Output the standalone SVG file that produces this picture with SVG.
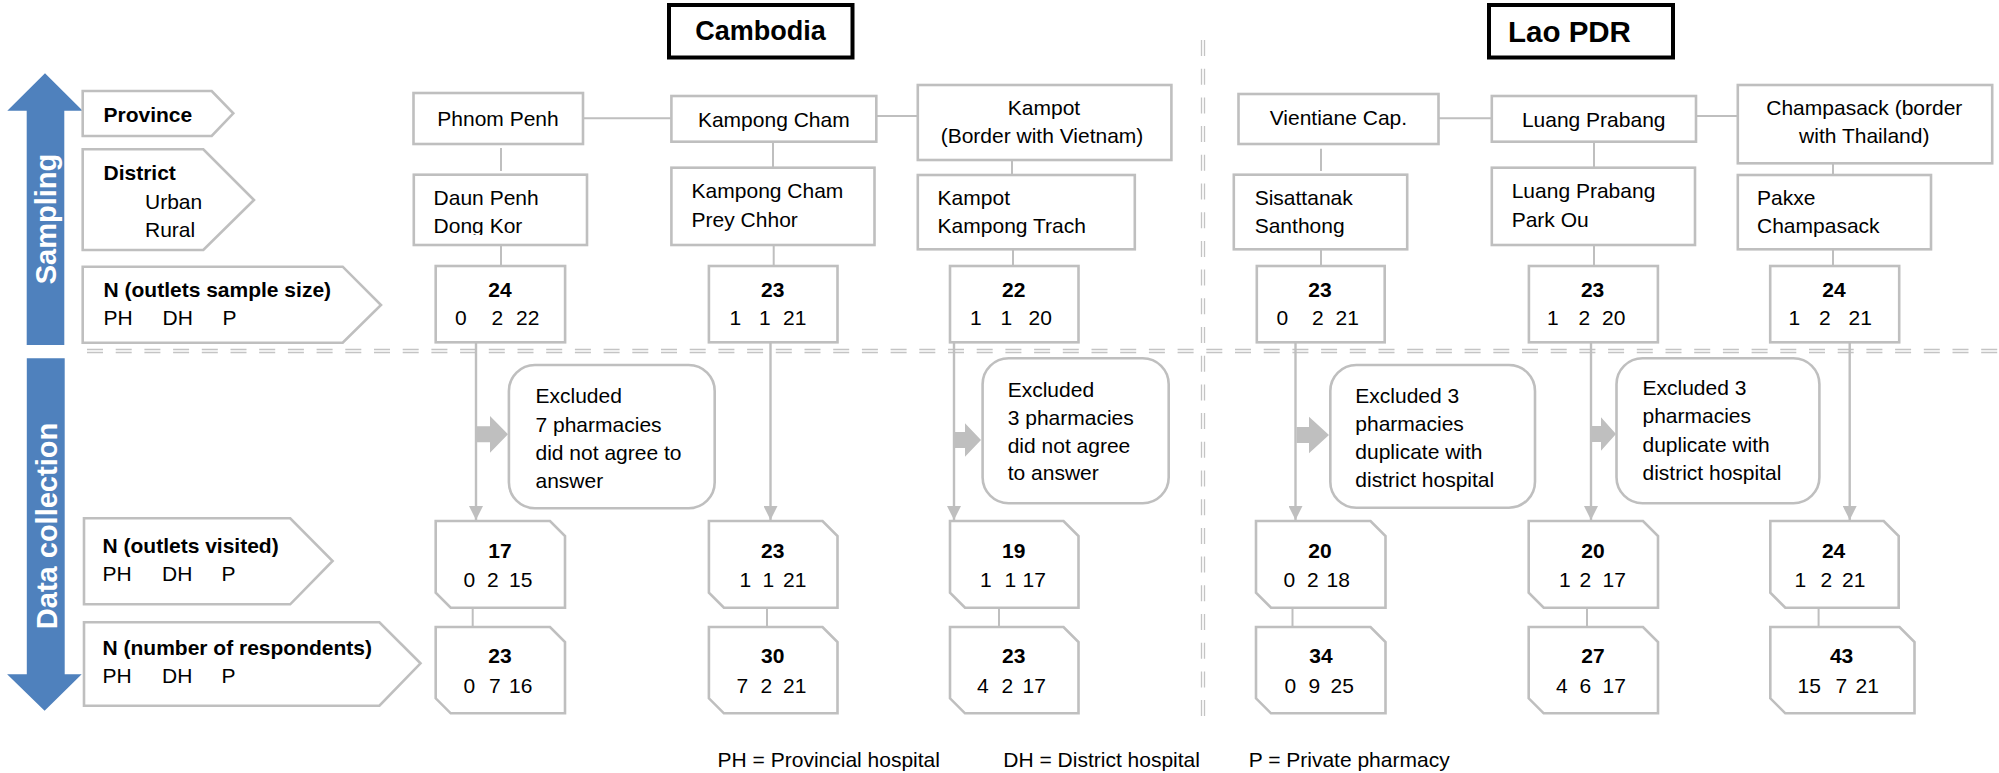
<svg xmlns="http://www.w3.org/2000/svg" width="1999" height="773" viewBox="0 0 1999 773">
<style>
.box{fill:#fff;stroke:#bfbfbf;stroke-width:2.6}
.title{fill:#fff;stroke:#000;stroke-width:4}
.conn{stroke:#bfbfbf;stroke-width:2;fill:none}
.arr{stroke:#bfbfbf;stroke-width:2.4;fill:none;marker-end:url(#ah)}
.blk{fill:#bfbfbf;stroke:none}
.sep{stroke:#c4c4c4;stroke-width:1.3;fill:none;stroke-dasharray:16 12.7}
.blue{fill:#4f81bd;stroke:none}
text{font-family:"Liberation Sans",Arial,Helvetica,sans-serif;font-size:21px;fill:#000}
.b{font-weight:bold}
.m{text-anchor:middle}
.side{font-size:29px;font-weight:bold;fill:#fff;text-anchor:middle}
.ttl{font-size:27px;font-weight:bold}
</style>
<defs>
<marker id="ah" markerUnits="userSpaceOnUse" markerWidth="14" markerHeight="14" refX="14" refY="7" orient="auto">
<path d="M0,0 L14,7 L0,14 Z" fill="#bfbfbf"/>
</marker>
<clipPath id="clipDK"><rect x="400" y="160" width="200" height="75"/></clipPath>
</defs>

<!-- separators -->
<g id="separators">
<path class="sep" d="M87,349.5 H1999 M87,352.5 H1999"/>
<path class="sep" d="M1201.5,40 V725 M1204.5,40 V725"/>
</g>

<!-- side arrows -->
<g id="sampling-arrow">
<polygon class="blue" points="45,73.3 82.7,110.7 64.3,110.7 64.3,345 26.7,345 26.7,110.7 7.3,110.7"/>
<text class="side" transform="translate(56,219) rotate(-90)">Sampling</text>
</g>
<g id="datacollection-arrow">
<polygon class="blue" points="26.8,358.3 64.7,358.3 64.7,674.3 81.7,674.3 44.6,710.7 7.1,674.3 26.8,674.3"/>
<text class="side" transform="translate(57,526) rotate(-90)">Data collection</text>
</g>

<!-- titles -->
<g id="title-cambodia">
<rect class="title" x="669" y="5" width="183.5" height="52.5"/>
<text class="ttl m" x="760.5" y="40">Cambodia</text>
</g>
<g id="title-lao">
<rect class="title" x="1489" y="5" width="184" height="52.5"/>
<text class="ttl" x="1508" y="41.5" style="font-size:29.5px">Lao PDR</text>
</g>

<!-- row labels -->
<g id="label-province">
<path class="box" d="M82.7,91 H211.7 L233.3,113.3 L211.7,136 H82.7 Z"/>
<text class="b" x="103.5" y="122.3">Province</text>
</g>
<g id="label-district">
<path class="box" d="M82.7,149.3 H203.3 L254,200 L203.3,250 H82.7 Z"/>
<text class="b" x="103.5" y="180">District</text>
<text x="145" y="209">Urban</text>
<text x="145" y="236.7">Rural</text>
</g>
<g id="label-sample">
<path class="box" d="M82.7,266.7 H342.7 L381,305 L342.7,342.7 H82.7 Z"/>
<text class="b" x="103.5" y="297.3">N (outlets sample size)</text>
<text y="325"><tspan x="103.5">PH</tspan><tspan x="162.5">DH</tspan><tspan x="222.5">P</tspan></text>
</g>
<g id="label-visited">
<path class="box" d="M84,518.3 H290.2 L332.6,561 L290.2,604.3 H84 Z"/>
<text class="b" x="102.5" y="552.7">N (outlets visited)</text>
<text y="580.7"><tspan x="102.5">PH</tspan><tspan x="162">DH</tspan><tspan x="221.5">P</tspan></text>
</g>
<g id="label-respondents">
<path class="box" d="M84,622.3 H379.4 L420.5,663.3 L379.4,705.7 H84 Z"/>
<text class="b" x="102.5" y="655">N (number of respondents)</text>
<text y="683.3"><tspan x="102.5">PH</tspan><tspan x="162">DH</tspan><tspan x="221.5">P</tspan></text>
</g>

<!-- connectors -->
<g id="connectors">
<path class="conn" d="M583,118.3 H671.4 M876.3,116 H917.8 M1438.5,118.3 H1491.8 M1696,116 H1737.8"/>
<path class="conn" d="M501,148 V171 M501,245 V266 M773,141.7 V167.7 M773.7,245 V266 M1012,160 V175 M1013,249.3 V266"/>
<path class="conn" d="M1321,148.7 V171 M1321,249.3 V266 M1594,141.7 V167.7 M1594,245 V266 M1833,163.3 V175 M1833,249.3 V266"/>
<path class="arr" d="M476,342.3 V520"/>
<path class="arr" d="M770.5,342.3 V520"/>
<path class="arr" d="M954,342.3 V520"/>
<path class="arr" d="M1295.5,342.3 V520"/>
<path class="arr" d="M1591,342.3 V520"/>
<path class="arr" d="M1849.7,342.3 V520"/>
<path class="conn" d="M472.7,607.7 V627 M767,607.7 V627 M999,607.7 V627 M1292.5,607.7 V627 M1587,607.7 V627 M1818.6,607.7 V627"/>
<polygon class="blk" points="477,426.3 490,426.3 490,416 508,434.3 490,452.7 490,442.3 477,442.3"/>
<polygon class="blk" points="954.5,432 965,432 965,423.3 981,440 965,456.7 965,448 954.5,448"/>
<polygon class="blk" points="1296.5,427 1309,427 1309,416.7 1329,435 1309,453.3 1309,443 1296.5,443"/>
<polygon class="blk" points="1590,426 1601,426 1601,417.3 1616,434 1601,450.7 1601,442 1590,442"/>
</g>

<!-- Cambodia provinces -->
<g id="prov-phnompenh">
<rect class="box" x="413.5" y="93" width="169.5" height="51"/>
<text class="m" x="498" y="126">Phnom Penh</text>
</g>
<g id="prov-kampongcham">
<rect class="box" x="671.4" y="96" width="204.9" height="45.7"/>
<text class="m" x="773.8" y="127">Kampong Cham</text>
</g>
<g id="prov-kampot">
<rect class="box" x="917.8" y="85" width="253.6" height="75"/>
<text class="m" x="1044" y="115">Kampot</text>
<text class="m" x="1042" y="142.7">(Border with Vietnam)</text>
</g>
<!-- Lao provinces -->
<g id="prov-vientiane">
<rect class="box" x="1238.5" y="94" width="200" height="50"/>
<text class="m" x="1338.4" y="125">Vientiane Cap.</text>
</g>
<g id="prov-luangprabang">
<rect class="box" x="1491.8" y="96" width="204.2" height="45.7"/>
<text class="m" x="1593.7" y="127.3">Luang Prabang</text>
</g>
<g id="prov-champasack">
<rect class="box" x="1737.8" y="85" width="254.4" height="78.3"/>
<text class="m" x="1864.3" y="115">Champasack (border</text>
<text class="m" x="1864.3" y="143.3">with Thailand)</text>
</g>

<!-- districts -->
<g id="dist-phnompenh">
<rect class="box" x="413.8" y="174.7" width="173.2" height="70.3"/>
<text x="433.6" y="205">Daun Penh</text>
<text x="433.6" y="233.3" clip-path="url(#clipDK)">Dong Kor</text>
</g>
<g id="dist-kampongcham">
<rect class="box" x="671.4" y="167.7" width="203.1" height="77.3"/>
<text x="691.6" y="198.3">Kampong Cham</text>
<text x="691.6" y="226.7">Prey Chhor</text>
</g>
<g id="dist-kampot">
<rect class="box" x="917.8" y="175" width="217" height="74.3"/>
<text x="937.6" y="205">Kampot</text>
<text x="937.6" y="233.3">Kampong Trach</text>
</g>
<g id="dist-vientiane">
<rect class="box" x="1233.8" y="174.7" width="173.4" height="74.6"/>
<text x="1254.7" y="205">Sisattanak</text>
<text x="1254.7" y="233.3">Santhong</text>
</g>
<g id="dist-luangprabang">
<rect class="box" x="1491.8" y="167.7" width="203.2" height="77.3"/>
<text x="1511.7" y="198.3">Luang Prabang</text>
<text x="1511.7" y="226.7">Park Ou</text>
</g>
<g id="dist-champasack">
<rect class="box" x="1737.8" y="175" width="193.2" height="74.3"/>
<text x="1757" y="205">Pakxe</text>
<text x="1757" y="233.3">Champasack</text>
</g>

<!-- sample size -->
<g id="sample-1">
<rect class="box" x="435.7" y="266" width="129.4" height="76.3"/>
<text class="b m" x="500" y="296.7">24</text>
<text y="325"><tspan x="455">0</tspan><tspan x="491.5">2</tspan><tspan x="516">22</tspan></text>
</g>
<g id="sample-2">
<rect class="box" x="708.9" y="266" width="128.6" height="76.3"/>
<text class="b m" x="772.8" y="296.7">23</text>
<text y="325"><tspan x="729.5">1</tspan><tspan x="759">1</tspan><tspan x="783">21</tspan></text>
</g>
<g id="sample-3">
<rect class="box" x="950" y="266" width="128.5" height="76.3"/>
<text class="b m" x="1013.8" y="296.7">22</text>
<text y="325"><tspan x="970">1</tspan><tspan x="1000.5">1</tspan><tspan x="1028.5">20</tspan></text>
</g>
<g id="sample-4">
<rect class="box" x="1256.8" y="266" width="127.9" height="76.3"/>
<text class="b m" x="1320" y="296.7">23</text>
<text y="325"><tspan x="1276.5">0</tspan><tspan x="1312">2</tspan><tspan x="1335.5">21</tspan></text>
</g>
<g id="sample-5">
<rect class="box" x="1528.9" y="266" width="129" height="76.3"/>
<text class="b m" x="1592.6" y="296.7">23</text>
<text y="325"><tspan x="1547">1</tspan><tspan x="1578.5">2</tspan><tspan x="1602">20</tspan></text>
</g>
<g id="sample-6">
<rect class="box" x="1770.2" y="266" width="129" height="76.3"/>
<text class="b m" x="1834" y="296.7">24</text>
<text y="325"><tspan x="1788.5">1</tspan><tspan x="1819">2</tspan><tspan x="1848.5">21</tspan></text>
</g>

<!-- excluded -->
<g id="excl-1">
<rect class="box" x="508.9" y="365" width="205.8" height="143.3" rx="26"/>
<text x="535.5" y="403.3">Excluded</text>
<text x="535.5" y="431.7">7 pharmacies</text>
<text x="535.5" y="460">did not agree to</text>
<text x="535.5" y="488.3">answer</text>
</g>
<g id="excl-2">
<rect class="box" x="982.6" y="358.3" width="186.1" height="145" rx="26"/>
<text x="1007.7" y="396.7">Excluded</text>
<text x="1007.7" y="425">3 pharmacies</text>
<text x="1007.7" y="452.7">did not agree</text>
<text x="1007.7" y="480">to answer</text>
</g>
<g id="excl-3">
<rect class="box" x="1330.3" y="365" width="204.7" height="142.7" rx="26"/>
<text x="1355.3" y="402.7">Excluded 3</text>
<text x="1355.3" y="430.7">pharmacies</text>
<text x="1355.3" y="459.3">duplicate with</text>
<text x="1355.3" y="487.3">district hospital</text>
</g>
<g id="excl-4">
<rect class="box" x="1616.5" y="358.3" width="202.9" height="145" rx="26"/>
<text x="1642.5" y="395">Excluded 3</text>
<text x="1642.5" y="423.3">pharmacies</text>
<text x="1642.5" y="451.7">duplicate with</text>
<text x="1642.5" y="480">district hospital</text>
</g>

<!-- visited -->
<g id="visited-1">
<path class="box" d="M435.7,521 H550 L565,536 V607.7 H450.7 L435.7,592.7 Z"/>
<text class="b m" x="500" y="558.3">17</text>
<text y="586.7"><tspan x="463.5">0</tspan><tspan x="487">2</tspan><tspan x="509">15</tspan></text>
</g>
<g id="visited-2">
<path class="box" d="M708.9,521 H822.5 L837.5,536 V607.7 H723.9 L708.9,592.7 Z"/>
<text class="b m" x="772.8" y="558.3">23</text>
<text y="586.7"><tspan x="739.5">1</tspan><tspan x="762.5">1</tspan><tspan x="783">21</tspan></text>
</g>
<g id="visited-3">
<path class="box" d="M950,521 H1063.5 L1078.5,536 V607.7 H965 L950,592.7 Z"/>
<text class="b m" x="1013.8" y="558.3">19</text>
<text y="586.7"><tspan x="980">1</tspan><tspan x="1004.5">1</tspan><tspan x="1022.5">17</tspan></text>
</g>
<g id="visited-4">
<path class="box" d="M1256,521 H1370.5 L1385.5,536 V607.7 H1271 L1256,592.7 Z"/>
<text class="b m" x="1320" y="558.3">20</text>
<text y="586.7"><tspan x="1283.5">0</tspan><tspan x="1307">2</tspan><tspan x="1326.5">18</tspan></text>
</g>
<g id="visited-5">
<path class="box" d="M1528.7,521 H1643 L1658,536 V607.7 H1543.7 L1528.7,592.7 Z"/>
<text class="b m" x="1592.9" y="558.3">20</text>
<text y="586.7"><tspan x="1559">1</tspan><tspan x="1579.5">2</tspan><tspan x="1602.5">17</tspan></text>
</g>
<g id="visited-6">
<path class="box" d="M1770.3,521 H1883.7 L1898.7,536 V607.7 H1785.3 L1770.3,592.7 Z"/>
<text class="b m" x="1833.6" y="558.3">24</text>
<text y="586.7"><tspan x="1794.5">1</tspan><tspan x="1820.5">2</tspan><tspan x="1842">21</tspan></text>
</g>

<!-- respondents -->
<g id="resp-1">
<path class="box" d="M435.7,627 H550 L565,642 V713.3 H450.7 L435.7,698.3 Z"/>
<text class="b m" x="500" y="663.3">23</text>
<text y="692.7"><tspan x="463.5">0</tspan><tspan x="489">7</tspan><tspan x="509">16</tspan></text>
</g>
<g id="resp-2">
<path class="box" d="M708.9,627 H822.5 L837.5,642 V713.3 H723.9 L708.9,698.3 Z"/>
<text class="b m" x="772.8" y="663.3">30</text>
<text y="692.7"><tspan x="736.5">7</tspan><tspan x="760.5">2</tspan><tspan x="783">21</tspan></text>
</g>
<g id="resp-3">
<path class="box" d="M950,627 H1063.5 L1078.5,642 V713.3 H965 L950,698.3 Z"/>
<text class="b m" x="1013.8" y="663.3">23</text>
<text y="692.7"><tspan x="977">4</tspan><tspan x="1001.5">2</tspan><tspan x="1022.5">17</tspan></text>
</g>
<g id="resp-4">
<path class="box" d="M1256,627 H1370.5 L1385.5,642 V713.3 H1271 L1256,698.3 Z"/>
<text class="b m" x="1321" y="663.3">34</text>
<text y="692.7"><tspan x="1284.5">0</tspan><tspan x="1308.5">9</tspan><tspan x="1330.5">25</tspan></text>
</g>
<g id="resp-5">
<path class="box" d="M1528.7,627 H1643 L1658,642 V713.3 H1543.7 L1528.7,698.3 Z"/>
<text class="b m" x="1593" y="663.3">27</text>
<text y="692.7"><tspan x="1556">4</tspan><tspan x="1579.5">6</tspan><tspan x="1602.5">17</tspan></text>
</g>
<g id="resp-6">
<path class="box" d="M1770.3,627 H1899.5 L1914.5,642 V713.3 H1785.3 L1770.3,698.3 Z"/>
<text class="b m" x="1841.6" y="663.3">43</text>
<text y="692.7"><tspan x="1797.5">15</tspan><tspan x="1835.5">7</tspan><tspan x="1855.5">21</tspan></text>
</g>

<!-- legend -->
<g id="legend">
<text x="717.6" y="767">PH = Provincial hospital</text>
<text x="1003.3" y="767">DH = District hospital</text>
<text x="1248.7" y="767">P = Private pharmacy</text>
</g>
</svg>
